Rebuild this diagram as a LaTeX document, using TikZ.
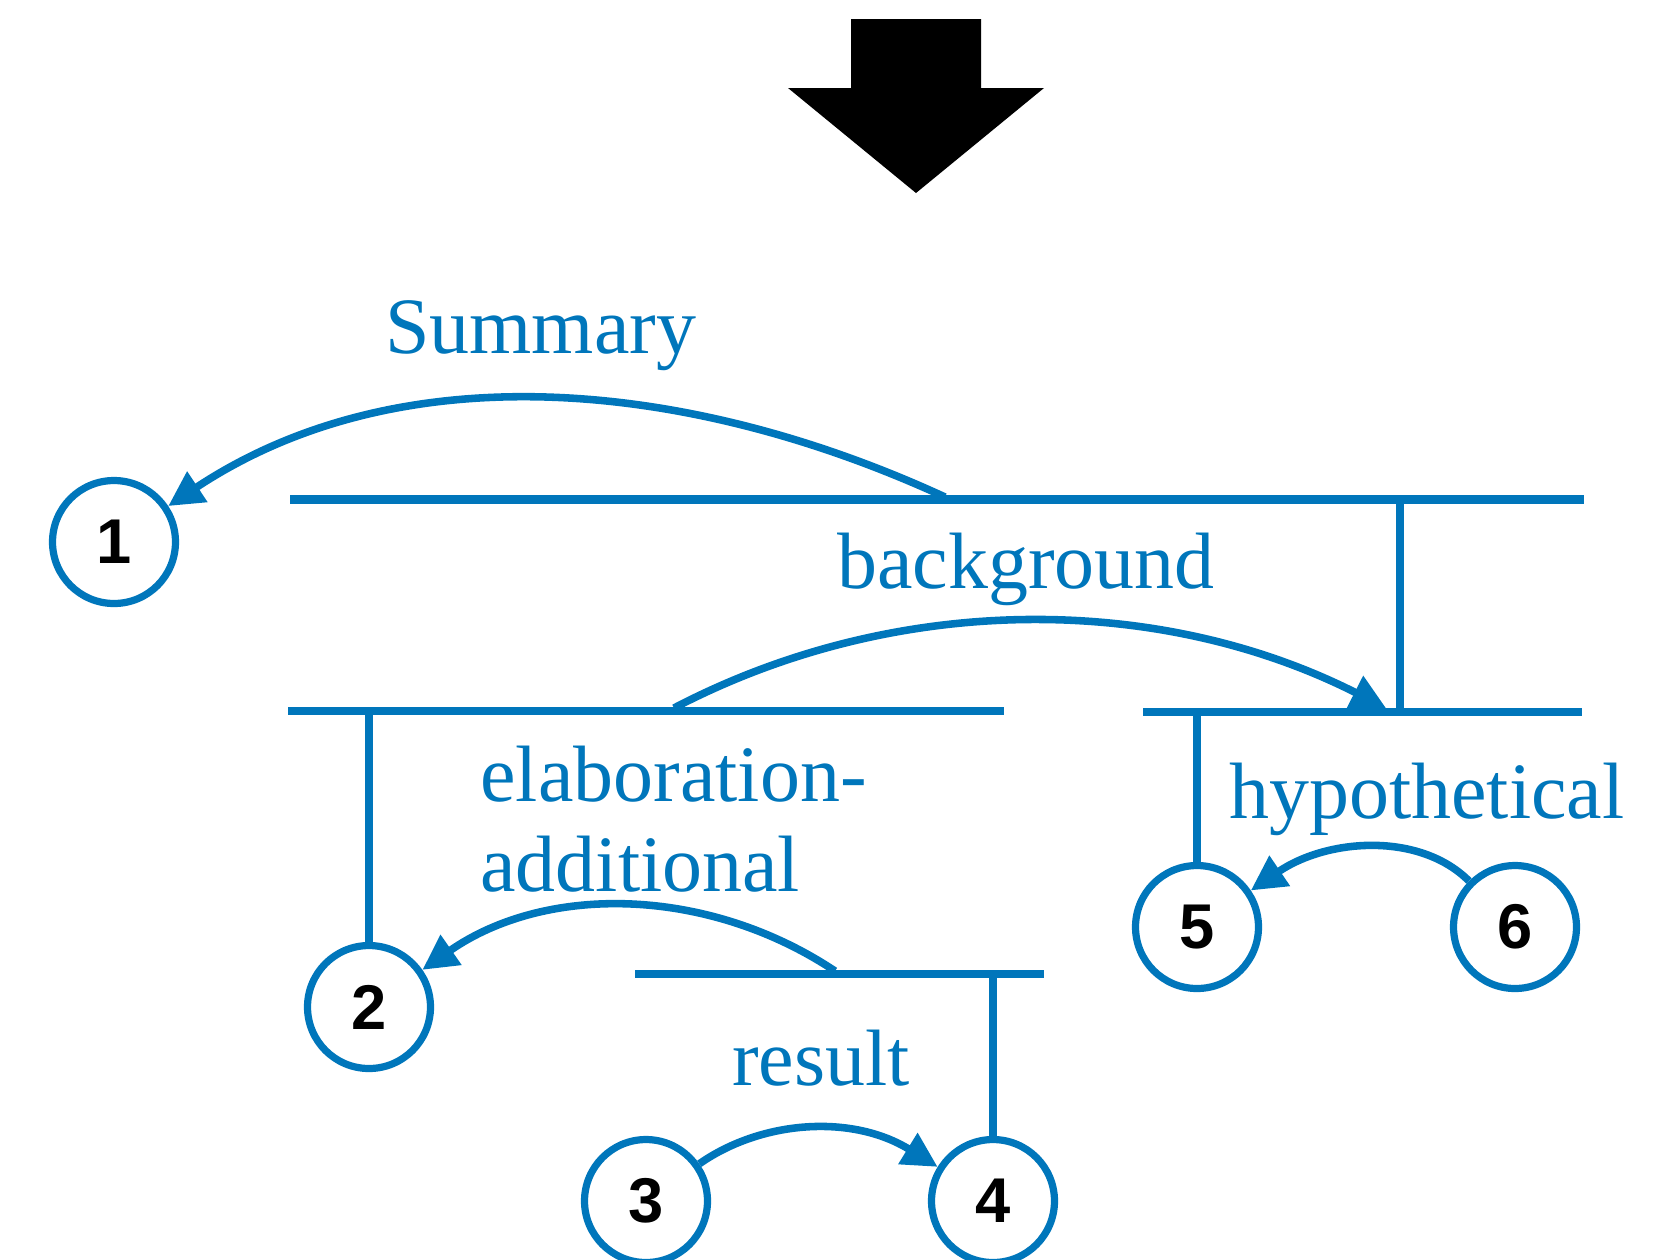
\documentclass[tikz,border=0pt]{standalone}
\usepackage{fontspec}
\setmainfont{Liberation Serif}
\newfontfamily\numfont{Liberation Sans}
\usetikzlibrary{arrows.meta}
\definecolor{rstblue}{RGB}{0,118,187}

\begin{document}
\begin{tikzpicture}[x=0.02cm, y=-0.02cm,
    edu/.style={circle, draw=rstblue, line width=4.1pt, minimum size=2.46cm, inner sep=0pt,
        font=\numfont\bfseries\fontsize{36}{36}\selectfont},
    span/.style={rstblue, line width=4.7pt},
    stem/.style={rstblue, line width=4.5pt},
    rel/.style={rstblue, line width=4.3pt, -{Triangle[length=0.7cm, width=0.7cm]}},
    lbl/.style={rstblue, anchor=base west, inner sep=0pt, font=\fontsize{45.5}{50.6}\selectfont}]
    \useasboundingbox (0,0) rectangle (1656,1259);

    % Big arrow
    \fill[black] (851,19) -- (981,19) -- (981,88) -- (1044,88) -- (916,193) -- (788,88) -- (851,88) -- cycle;

    % Units
    \node[edu] (n1) at (114,542) {1};
    \node[edu] (n2) at (369,1007) {2};
    \node[edu] (n3) at (646,1201) {3};
    \node[edu] (n4) at (993,1201) {4};
    \node[edu] (n5) at (1197,927) {5};
    \node[edu] (n6) at (1515,927) {6};

    % Spans
    \coordinate (topL) at (290,499.5);
    \coordinate (topR) at (1584,499.5);
    \coordinate (leftL) at (288,711);
    \coordinate (leftR) at (1004,711);
    \coordinate (rightL) at (1143,712);
    \coordinate (rightR) at (1582,712);
    \coordinate (lowL) at (635,974);
    \coordinate (lowR) at (1044,974);
    \draw[span] (topL) -- (topR);
    \draw[span] (leftL) -- (leftR);
    \draw[span] (rightL) -- (rightR);
    \draw[span] (lowL) -- (lowR);

    % Stems
    \coordinate (topStem) at (1400,499.5);
    \coordinate (rightTop) at (1400,712);
    \coordinate (leftStem) at (369,711);
    \coordinate (rightStem) at (1197,712);
    \coordinate (lowStem) at (993,974);
    \draw[stem] (topStem) -- (rightTop);
    \draw[stem] (leftStem) -- (n2);
    \draw[stem] (rightStem) -- (n5);
    \draw[stem] (lowStem) -- (n4);

    % Relations
    \coordinate (sumFrom) at (945,497);
    \coordinate (bgFrom) at (674,708);
    \coordinate (bgTo) at (1386,708);
    \coordinate (elabFrom) at (835,971);
    \draw[rel] (sumFrom) .. controls (691,380) and (402,351) .. (n1);
    \draw[rel] (bgFrom) .. controls (898,591) and (1161,594) .. (bgTo);
    \draw[rel] (elabFrom) .. controls (709,887) and (547,883) .. (n2);
    \draw[rel] (n3) .. controls (762,1120) and (852,1114) .. (n4);
    \draw[rel] (n6) .. controls (1420,832) and (1328,838) .. (n5);

    % Labels
    \node[lbl] (summary) at (385,353) {Summary};
    \node[lbl] (background) at (837,588) {background};
    \node[lbl] (elab) at (480,801) {elaboration-};
    \node[lbl] (additional) at (480,891) {additional};
    \node[lbl] (hypothetical) at (1229,818) {hypothetical};
    \node[lbl] (result) at (732,1085) {result};
\end{tikzpicture}
\end{document}
